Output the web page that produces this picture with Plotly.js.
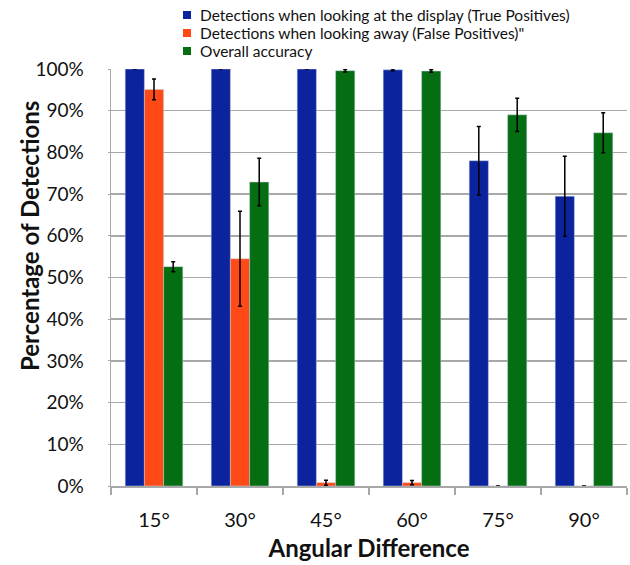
<!DOCTYPE html>
<html>
<head>
<meta charset="utf-8">
<script src="https://cdn.plot.ly/plotly-3.0.1.min.js"></script>
<style>html,body{margin:0;padding:0;background:#fff;}#chart{width:630px;height:565px;}</style>
</head>
<body>
<div id="chart"></div>
<script>
const categories = ["15°", "30°", "45°", "60°", "75°", "90°"];
const seriesNames = [
  "Detections when looking at the display (True Positives)",
  "Detections when looking away (False Positives)\"",
  "Overall accuracy"
];
const truePositives = [100, 100, 100, 99.8, 78.0, 69.5];
const truePositivesErr = [0, 0, 0, 0.2, 8.2, 9.6];
const falsePositives = [95.1, 54.5, 0.8, 0.8, 0, 0];
const falsePositivesErr = [2.5, 11.4, 0.6, 0.5, 0, 0];
const accuracy = [52.6, 72.9, 99.6, 99.5, 89.0, 84.7];
const accuracyErr = [1.2, 5.7, 0.3, 0.3, 4.0, 4.8];
const yTicks = [0, 10, 20, 30, 40, 50, 60, 70, 80, 90, 100];
const yTickLabels = ["0%", "10%", "20%", "30%", "40%", "50%", "60%", "70%", "80%", "90%", "100%"];

const colors = ["#0B249E", "#FF4A17", "#066E12"];
const values = [truePositives, falsePositives, accuracy];
const errs = [truePositivesErr, falsePositivesErr, accuracyErr];

const font = "Lato, 'Open Sans', sans-serif";

const M = {l: 111, r: 3, t: 69, b: 79};
const PW = 630 - M.l - M.r, PH = 565 - M.t - M.b;
const px = x => (x - M.l) / PW;
const py = y => (565 - M.b - y) / PH;

const traces = values.map((v, i) => ({
  type: "bar",
  name: seriesNames[i],
  x: categories,
  y: v,
  cliponaxis: false,
  showlegend: false,
  marker: {color: colors[i], line: {color: "rgba(200,210,230,0.6)", width: 0.8}},
  error_y: {type: "data", array: errs[i], visible: true, color: "#000", thickness: 1.5, width: 2}
}));

const legendRows = [15, 33, 51];
const annotations = seriesNames.map((n, i) => ({
  text: n, xref: "paper", yref: "paper",
  x: px(198), y: py(legendRows[i]), xanchor: "left", yanchor: "middle",
  showarrow: false, font: {family: font, size: 15.5, color: "#111"}
}));
const shapes = seriesNames.map((n, i) => ({
  type: "rect", xref: "paper", yref: "paper",
  x0: px(183), x1: px(191), y0: py(legendRows[i] - 4), y1: py(legendRows[i] + 4),
  fillcolor: colors[i], line: {width: 0}
}));
annotations.push({
  text: "<b>Percentage of Detections</b>",
  xref: "paper", yref: "paper",
  x: px(30), y: py(236),
  xanchor: "center", yanchor: "middle",
  textangle: -90, showarrow: false,
  font: {family: font, size: 24, color: "#111"}
});

const layout = {
  width: 630,
  height: 565,
  margin: M,
  paper_bgcolor: "#fff",
  plot_bgcolor: "#fff",
  barmode: "group",
  bargap: 0.33,
  bargroupgap: 0,
  showlegend: false,
  xaxis: {
    type: "category",
    tickfont: {family: font, size: 20, color: "#111"},
    ticklabelstandoff: 15,
    title: {text: "<b>Angular Difference</b>", font: {family: font, size: 24, color: "#111"}, standoff: 10},
    showline: true, linecolor: "#a8a8a8", linewidth: 1.5,
    ticks: "outside", tickson: "boundaries", ticklen: 7, tickcolor: "#a8a8a8", tickwidth: 1.5,
    showgrid: false
  },
  yaxis: {
    range: [0, 100],
    tickvals: yTicks,
    ticktext: yTickLabels,
    tickfont: {family: font, size: 19, color: "#111"},
    showline: true, linecolor: "#a8a8a8", linewidth: 1.5,
    showgrid: true, gridcolor: "#a8a8a8", gridwidth: 1.5,
    ticks: "outside", ticklen: 2, tickcolor: "#a8a8a8",
    ticklabelstandoff: 20,
    zeroline: false
  },
  annotations: annotations,
  shapes: shapes
};

Plotly.newPlot("chart", traces, layout, {displayModeBar: false, staticPlot: true});
</script>
</body>
</html>
